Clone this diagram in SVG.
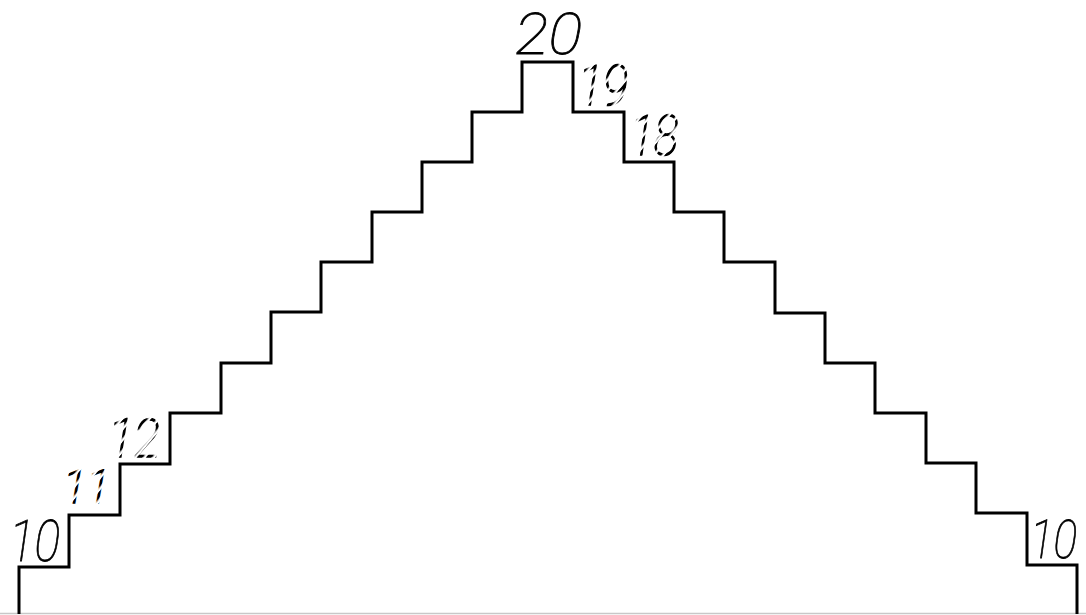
<svg xmlns="http://www.w3.org/2000/svg" width="1086" height="615" viewBox="0 0 1086 615">
  <style>
    .stair { fill: none; stroke: #000; stroke-width: 3; stroke-linejoin: miter; }
    .num { font-family: Roboto, "Noto Sans", "Liberation Sans", sans-serif; font-weight: 100; font-style: italic; fill: #000; stroke: #000; stroke-width: 0.8; }
    .dash { fill: url(#dashes); stroke: url(#dashes); stroke-width: 1.6; }
  </style>
  <defs>
    <pattern id="dashes" patternUnits="userSpaceOnUse" width="7" height="7" patternTransform="rotate(40)">
      <rect x="0" y="0" width="4.3" height="7" fill="#000"/>
    </pattern>
  </defs>
  <rect width="1086" height="615" fill="#fff"/>
  <g id="connectors">
    <line x1="0" y1="613.5" x2="1086" y2="613.5" stroke="#c8c8c8" stroke-width="1.5"/>
  </g>
  <g id="staircase">
    <path class="stair" d="M19,614 V567 H69 V515 H120 V464 H170 V413 H221 V363 H271 V312 H321 V262 H372 V212 H422 V162 H472 V112 H522 V62 H573 V112 H624 V162 H674 V212 H724 V262 H775 V313 H825 V363 H875 V413 H926 V463 H976 V513 H1027 V565 H1077 V614"/>
  </g>
  <g id="label-10-left"><text class="num" x="9" y="561" font-size="57" textLength="51" lengthAdjust="spacingAndGlyphs">10</text></g>
  <g id="label-11"><text class="num dash" x="63" y="503" font-size="46" textLength="47" lengthAdjust="spacingAndGlyphs">11</text></g>
  <g id="label-12"><text class="num dash" x="108" y="457" font-size="54" textLength="52" lengthAdjust="spacingAndGlyphs">12</text></g>
  <g id="label-20"><text class="num" x="515" y="54" font-size="58" textLength="67" lengthAdjust="spacingAndGlyphs">20</text></g>
  <g id="label-19"><text class="num dash" x="578" y="105" font-size="55" textLength="50" lengthAdjust="spacingAndGlyphs">19</text></g>
  <g id="label-18"><text class="num dash" x="630" y="155" font-size="55" textLength="48" lengthAdjust="spacingAndGlyphs">18</text></g>
  <g id="label-10-right"><text class="num" x="1030" y="558" font-size="54" textLength="47" lengthAdjust="spacingAndGlyphs">10</text></g>
</svg>
